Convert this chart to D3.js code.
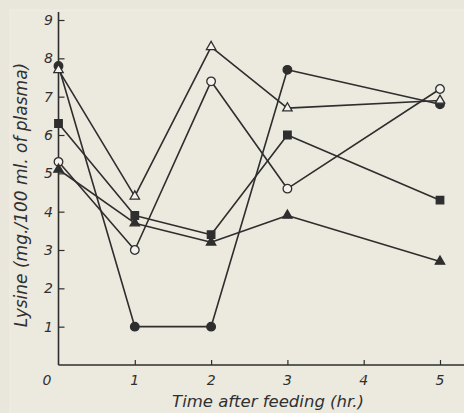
<!DOCTYPE html>
<html>
<head>
<meta charset="utf-8">
<script src="https://cdn.jsdelivr.net/npm/d3@7"></script>
<style>
  html, body { margin: 0; padding: 0; background: #ebe8de; }
  svg { display: block; }
  text { font-family: "DejaVu Sans", sans-serif; font-style: italic; fill: #303030; }
</style>
</head>
<body>
<script>
// Hours after feeding
const hours = [0, 1, 2, 3, 5];

// Plasma lysine (mg./100 ml.) for each animal
const filledCircle   = [7.8, 1.0, 1.0, 7.7, 6.8];
const openTriangle   = [7.7, 4.4, 8.3, 6.7, 6.9];
const openCircle     = [5.3, 3.0, 7.4, 4.6, 7.2];
const filledSquare   = [6.3, 3.9, 3.4, 6.0, 4.3];
const filledTriangle = [5.1, 3.7, 3.2, 3.9, 2.7];

const xTicks = [1, 2, 3, 4, 5];
const yTicks = [1, 2, 3, 4, 5, 6, 7, 8, 9];

const W = 464, H = 413;
const ink = "#2e2e2e";

const svg = d3.select("body").append("svg")
  .attr("width", W).attr("height", H);

// faint paper edge
svg.append("rect").attr("x", 0).attr("y", 0).attr("width", W).attr("height", H)
  .attr("fill", "#e9e6dc");
svg.append("rect").attr("x", 10).attr("y", 10).attr("width", W).attr("height", H)
  .attr("fill", "#ece9df").attr("stroke", "#f1eee6").attr("stroke-width", 1);

const x = d3.scaleLinear().domain([0, 5]).range([58.5, 440]);
const y = d3.scaleLinear().domain([0, 9]).range([365, 20]);

// axes
const xAxis = svg.append("g").attr("transform", `translate(0,${y(0)})`)
  .call(d3.axisTop(x).tickValues(xTicks).tickSize(5).tickFormat(""));
xAxis.select(".domain").remove();
xAxis.selectAll(".tick line").attr("stroke", ink).attr("stroke-width", 1.2);

const yAxis = svg.append("g").attr("transform", `translate(${x(0)},0)`)
  .call(d3.axisRight(y).tickValues(yTicks).tickSize(6).tickFormat(""));
yAxis.select(".domain").remove();
yAxis.selectAll(".tick line").attr("stroke", ink).attr("stroke-width", 1.2);

svg.append("line").attr("x1", x(0)).attr("x2", W).attr("y1", y(0)).attr("y2", y(0))
  .attr("stroke", ink).attr("stroke-width", 1.6);
svg.append("line").attr("x1", x(0)).attr("x2", x(0)).attr("y1", y(0)).attr("y2", 12)
  .attr("stroke", ink).attr("stroke-width", 1.6);

// tick labels
svg.append("g").selectAll("text").data(xTicks).join("text")
  .attr("x", d => x(d)).attr("y", 385)
  .attr("text-anchor", "middle").attr("font-size", 14)
  .text(d => d);
svg.append("text").attr("x", 47).attr("y", 385)
  .attr("text-anchor", "middle").attr("font-size", 14).text("0");
svg.append("g").selectAll("text").data(yTicks).join("text")
  .attr("x", 53).attr("y", d => y(d) + 5)
  .attr("text-anchor", "end").attr("font-size", 14)
  .text(d => d);

// axis titles
svg.append("text").attr("x", 268).attr("y", 407)
  .attr("text-anchor", "middle").attr("font-size", 16.5)
  .text("Time after feeding (hr.)");
svg.append("text")
  .attr("transform", `translate(27,195) rotate(-90)`)
  .attr("text-anchor", "middle").attr("font-size", 17)
  .text("Lysine (mg./100 ml. of plasma)");

// series
const series = [
  { values: filledCircle,   shape: "circle",   filled: true },
  { values: openTriangle,   shape: "triangle", filled: false },
  { values: openCircle,     shape: "circle",   filled: false },
  { values: filledSquare,   shape: "square",   filled: true },
  { values: filledTriangle, shape: "triangle", filled: true }
];

const line = d3.line().x(d => x(d.t)).y(d => y(d.v));
const symbolType = { circle: d3.symbolCircle, triangle: d3.symbolTriangle, square: d3.symbolSquare };
const symbolSize = { circle: 58, triangle: 38, square: 56 };

series.forEach(s => {
  const pts = hours.map((t, i) => ({ t, v: s.values[i] }));
  svg.append("path").datum(pts)
    .attr("d", line)
    .attr("fill", "none").attr("stroke", ink).attr("stroke-width", 1.6)
    .attr("stroke-linejoin", "round");
});

series.forEach(s => {
  const pts = hours.map((t, i) => ({ t, v: s.values[i] }));
  svg.append("g").selectAll("path").data(pts).join("path")
    .attr("transform", d => `translate(${x(d.t)},${y(d.v)})`)
    .attr("d", d3.symbol().type(symbolType[s.shape]).size(symbolSize[s.shape]))
    .attr("fill", s.filled ? ink : "#f4f2ec")
    .attr("stroke", ink).attr("stroke-width", 1.3);
});
</script>
</body>
</html>
